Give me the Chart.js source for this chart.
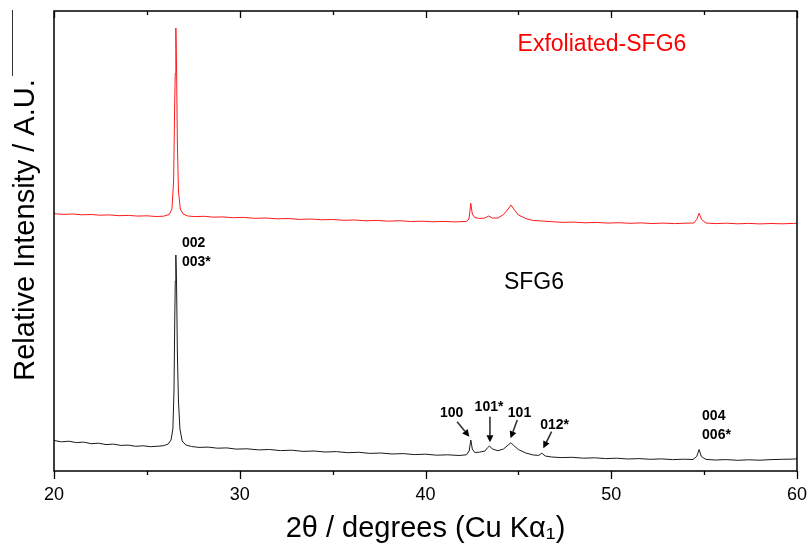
<!DOCTYPE html>
<html>
<head>
<meta charset="utf-8">
<script src="https://cdn.jsdelivr.net/npm/chart.js@4.4.1/dist/chart.umd.min.js"></script>
<style>
  html, body { margin: 0; padding: 0; background: #fff; }
  #wrap { width: 808px; height: 549px; }
</style>
</head>
<body>
<div id="wrap"><canvas id="xrd" width="808" height="549"></canvas></div>
<script>
// 2theta positions and relative intensities
const sfg6X = [20, 20.4, 20.8, 21.2, 21.6, 22, 22.4, 22.8, 23.2, 23.6, 24, 24.4, 24.8, 25.2, 25.6, 25.9,
	26.15, 26.3, 26.4, 26.46, 26.5, 26.53, 26.56, 26.6, 26.64, 26.7, 26.78, 26.9, 27.1, 27.4, 27.8,
	28.3, 28.8, 29.3, 29.8, 30.4, 31, 31.6, 32.2, 32.8, 33.4, 34, 34.6, 35.2, 35.8, 36.4, 37, 37.6,
	38.2, 38.8, 39.4, 40, 40.6, 41.2, 41.8, 42.2, 42.35, 42.44, 42.52, 42.65, 42.9, 43.2, 43.35, 43.45,
	43.6, 43.9, 44.2, 44.45, 44.6, 44.75, 45, 45.4, 45.8, 46.1, 46.26, 46.45, 46.8, 47.3, 47.9, 48.5,
	49.1, 49.7, 50.3, 50.9, 51.5, 52.1, 52.7, 53.3, 53.9, 54.4, 54.6, 54.73, 54.85, 55.1, 55.6, 56.2,
	56.8, 57.4, 58, 58.6, 59.2, 59.8, 60];
const sfg6Y = [30.5, 29.2, 29.8, 28.4, 28.9, 27.3, 27.8, 26.4, 26.9, 25.6, 25.9, 24.7, 25.2, 24.3, 24.8, 25.3,
	27, 31, 42, 80, 150, 190, 216, 185, 120, 70, 42, 30, 26, 24.5, 23.6,
	23.9, 22.8, 23.1, 21.9, 22.2, 21.1, 21.5, 20.4, 20.8, 19.6, 20, 19, 19.4, 18.3, 18.7, 17.6, 18,
	17, 17.4, 16.4, 16.8, 15.8, 16.2, 15.5, 16.2, 20, 31, 22, 18.5, 18.8, 20, 23.5, 25,
	22, 20.3, 22, 26, 28.3, 25.5, 21.5, 18, 16, 15.6, 17.8, 15, 14, 13.4, 13.7, 12.8,
	13.2, 12.4, 12.8, 12, 12.4, 11.7, 12.1, 11.4, 11.8, 11.5, 14.5, 21.5, 14.5, 11.6, 11, 11.4,
	10.7, 11.2, 10.8, 11.4, 11.7, 11.9, 12.2];

const exfX = [20, 20.5, 21, 21.5, 22, 22.5, 23, 23.5, 24, 24.5, 25, 25.5, 25.9, 26.2, 26.35, 26.44,
	26.5, 26.53, 26.56, 26.6, 26.64, 26.7, 26.8, 26.95, 27.2, 27.6, 28.1, 28.6, 29.1, 29.6, 30.2, 30.8,
	31.4, 32, 32.6, 33.2, 33.8, 34.4, 35, 35.6, 36.2, 36.8, 37.4, 38, 38.6, 39.2, 39.8, 40.4, 41, 41.6,
	42.2, 42.34, 42.44, 42.52, 42.65, 42.9, 43.2, 43.4, 43.6, 43.9, 44.2, 44.45, 44.6, 44.75, 45, 45.4,
	45.8, 46.3, 46.8, 47.4, 48, 48.6, 49.2, 49.8, 50.4, 51, 51.6, 52.2, 52.8, 53.4, 54, 54.45, 54.6,
	54.73, 54.86, 55.1, 55.6, 56.2, 56.8, 57.4, 58, 58.6, 59.2, 59.8, 60];
const exfY = [257.3, 256.6, 257, 256.2, 256.5, 255.8, 256.1, 255.3, 255.6, 254.9, 255.2, 254.5, 254.8, 256.5, 262, 290,
	370, 398, 443, 400, 330, 280, 262, 257, 255, 254.4, 254.7, 253.8, 254.1, 253.3, 253.6, 252.7,
	253, 252.2, 252.5, 251.6, 252, 251.2, 251.5, 250.7, 251, 250.2, 250.6, 249.8, 250.3, 249.5, 249.8, 249.2, 249.6, 249.1,
	249.6, 252, 267.7, 257, 253.5, 252.5, 253, 255, 253, 253, 256.5, 262, 266, 262, 256, 252.5,
	250.5, 250, 249.3, 248.6, 248.9, 248.2, 248.6, 247.9, 248.3, 247.7, 248.1, 247.5, 247.9, 247.4, 247.8, 248, 251.5,
	257.7, 251.5, 248, 247.4, 247.8, 247.2, 247.6, 247.1, 247.5, 247.2, 247.6, 247.7];

const xTicks = [20, 30, 40, 50, 60];

// reflection labels (data units) and arrows
const peakLabels = [
	{ text: '002', x: 26.89, y: 228, align: 'left' },
	{ text: '003*', x: 26.89, y: 209, align: 'left' },
	{ text: '100', x: 41.41, y: 58, align: 'center' },
	{ text: '101*', x: 43.42, y: 64, align: 'center' },
	{ text: '101', x: 45.06, y: 58, align: 'center' },
	{ text: '012*', x: 46.95, y: 46, align: 'center' },
	{ text: '004', x: 54.89, y: 55, align: 'left' },
	{ text: '006*', x: 54.89, y: 36, align: 'left' },
];
const peakArrows = [
	[41.70, 49.3, 42.36, 34.3],
	[43.47, 54.3, 43.47, 28.7],
	[44.94, 51, 44.58, 32.7],
	[46.79, 39.3, 46.34, 22.7],
];

const toPoints = (xs, ys) => xs.map((x, i) => ({ x: x, y: ys[i] }));

const decor = {
	id: 'decor',
	afterDraw(chart) {
		const ctx = chart.ctx;
		const a = chart.chartArea;
		const sx = chart.scales.x;
		const sy = chart.scales.y;
		ctx.save();
		// frame
		ctx.strokeStyle = '#000';
		ctx.lineWidth = 1.5;
		ctx.strokeRect(a.left, a.top, a.right - a.left, a.bottom - a.top);
		// ticks
		ctx.lineWidth = 1.3;
		for (let v = 20; v <= 60; v += 5) {
			const px = Math.round(sx.getPixelForValue(v)) + 0.5;
			const major = v % 10 === 0;
			ctx.beginPath();
			ctx.moveTo(px, a.bottom);
			ctx.lineTo(px, a.bottom + (major ? 8 : 4));
			ctx.moveTo(px, a.top);
			ctx.lineTo(px, a.top + (major ? 7 : 4));
			ctx.stroke();
		}
		// stray line at the far left of the original
		ctx.lineWidth = 1;
		ctx.strokeStyle = '#333';
		ctx.beginPath();
		ctx.moveTo(12.5, 10);
		ctx.lineTo(12.5, 76);
		ctx.stroke();

		// axis titles
		ctx.fillStyle = '#000';
		ctx.font = '29px "Liberation Sans", Arial, sans-serif';
		ctx.textAlign = 'center';
		ctx.textBaseline = 'alphabetic';
		ctx.fillText('2\u03b8 / degrees (Cu K\u03b1\u2081)', (a.left + a.right) / 2, 537);
		ctx.save();
		ctx.translate(34, 230);
		ctx.rotate(-Math.PI / 2);
		ctx.fillText('Relative Intensity / A.U.', 0, 0);
		ctx.restore();

		// series names
		ctx.font = '23px "Liberation Sans", Arial, sans-serif';
		ctx.textBaseline = 'middle';
		ctx.fillStyle = '#ff0000';
		ctx.fillText('Exfoliated-SFG6', sx.getPixelForValue(49.5), sy.getPixelForValue(426));
		ctx.fillStyle = '#000';
		ctx.fillText('SFG6', sx.getPixelForValue(45.84), sy.getPixelForValue(188));

		// reflection labels
		ctx.font = 'bold 14px "Liberation Sans", Arial, sans-serif';
		peakLabels.forEach(l => {
			ctx.textAlign = l.align;
			ctx.fillText(l.text, sx.getPixelForValue(l.x), sy.getPixelForValue(l.y));
		});
		// arrows
		ctx.lineWidth = 1.6;
		peakArrows.forEach(([x1, y1, x2, y2]) => {
			const p1 = [sx.getPixelForValue(x1), sy.getPixelForValue(y1)];
			const p2 = [sx.getPixelForValue(x2), sy.getPixelForValue(y2)];
			const ang = Math.atan2(p2[1] - p1[1], p2[0] - p1[0]);
			const hl = 7, hw = 3.5;
			const bx = p2[0] - hl * Math.cos(ang), by = p2[1] - hl * Math.sin(ang);
			ctx.beginPath();
			ctx.moveTo(p1[0], p1[1]);
			ctx.lineTo(bx, by);
			ctx.stroke();
			ctx.beginPath();
			ctx.moveTo(p2[0], p2[1]);
			ctx.lineTo(bx + hw * Math.sin(ang), by - hw * Math.cos(ang));
			ctx.lineTo(bx - hw * Math.sin(ang), by + hw * Math.cos(ang));
			ctx.closePath();
			ctx.fill();
		});
		ctx.restore();
	}
};

new Chart(document.getElementById('xrd').getContext('2d'), {
	type: 'line',
	data: {
		datasets: [
			{
				label: 'Exfoliated-SFG6',
				data: toPoints(exfX, exfY),
				borderColor: '#ff1a1a',
				borderWidth: 1,
				pointRadius: 0,
				tension: 0,
			},
			{
				label: 'SFG6',
				data: toPoints(sfg6X, sfg6Y),
				borderColor: '#1a1a1a',
				borderWidth: 1,
				pointRadius: 0,
				tension: 0,
			},
		],
	},
	options: {
		responsive: false,
		animation: false,
		layout: { padding: { left: 54, top: 11, right: 11, bottom: 0 } },
		plugins: { legend: { display: false }, tooltip: { enabled: false } },
		scales: {
			x: {
				type: 'linear',
				min: 20,
				max: 60,
				afterBuildTicks: s => { s.ticks = xTicks.map(v => ({ value: v })); },
				afterFit: s => {
					s.height = 78;
					s.paddingLeft = 0;
					s.paddingRight = 0;
				},
				grid: { display: false, drawTicks: false },
				border: { display: false },
				ticks: {
					padding: 13,
					color: '#000',
					font: { family: '"Liberation Sans", Arial, sans-serif', size: 18 },
					maxRotation: 0,
				},
			},
			y: {
				display: false,
				min: 0,
				max: 460,
			},
		},
	},
	plugins: [decor],
});
</script>
</body>
</html>
